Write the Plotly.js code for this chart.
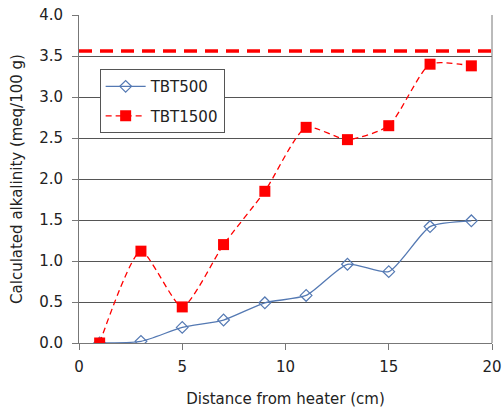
<!DOCTYPE html>
<html><head><meta charset="utf-8">
<script src="https://cdn.plot.ly/plotly-3.0.1.min.js"></script>
<style>html,body{margin:0;padding:0;background:#fff}#c{width:504px;height:408px}</style>
</head><body><div id="c"></div>
<script>
const distance = [1, 3, 5, 7, 9, 11, 13, 15, 17, 19];
const tbt500 = [0.0, 0.02, 0.19, 0.28, 0.49, 0.58, 0.96, 0.87, 1.42, 1.49];
const tbt1500 = [0.0, 1.12, 0.44, 1.20, 1.85, 2.63, 2.48, 2.65, 3.40, 3.38];
const refX = [0, 20];
const refY = [3.56, 3.56];
const xTicks = [0, 5, 10, 15, 20];
const yTicks = [0, 0.5, 1, 1.5, 2, 2.5, 3, 3.5, 4];

const traces = [
  {x: refX, y: refY, mode: 'lines', showlegend: false, hoverinfo: 'skip',
   line: {color: '#ff0000', width: 3.5, dash: '13px,8px'}},
  {x: distance, y: tbt500, name: 'TBT500', legendgroup: 'a', mode: 'lines+markers',
   line: {color: '#5479b3', width: 1.3, shape: 'spline', smoothing: 0.6},
   marker: {symbol: 'diamond-open', size: 9, color: '#5479b3', line: {width: 1.2}}},
  {x: distance, y: tbt1500, name: 'TBT1500', legendgroup: 'b', mode: 'lines+markers',
   line: {color: '#ff0000', width: 1.3, dash: '6px,4px', shape: 'spline', smoothing: 0.6},
   marker: {symbol: 'square', size: 11, color: '#ff0000'}}
];

const layout = {
  width: 504, height: 408,
  margin: {l: 79, r: 12, t: 15, b: 65},
  paper_bgcolor: '#fff', plot_bgcolor: '#fff',
  font: {family: 'DejaVu Sans, Verdana, sans-serif', size: 15, color: '#222'},
  showlegend: true,
  legend: {x: 0.05, y: 0.835, xanchor: 'left', yanchor: 'top', bgcolor: '#fff',
    bordercolor: '#555', borderwidth: 1, font: {size: 15, color: '#222'},
    itemwidth: 40, tracegroupgap: 7},
  xaxis: {range: [0, 20], tickvals: xTicks, ticktext: xTicks.map(String),
    showgrid: false, zeroline: false, showline: true, linecolor: '#777', linewidth: 1,
    mirror: false, ticks: 'outside', ticklen: 6, tickcolor: '#777',
    ticklabelstandoff: 4, tickfont: {size: 15},
    title: {text: 'Distance from heater (cm)', font: {size: 15}, standoff: 20}},
  yaxis: {range: [0, 4], tickvals: yTicks, ticktext: yTicks.map(v => v.toFixed(1)),
    showgrid: true, gridcolor: '#555', gridwidth: 1, zeroline: false,
    showline: true, linecolor: '#777', linewidth: 1, ticks: 'outside', ticklen: 6,
    tickcolor: '#777', ticklabelstandoff: 6, tickfont: {size: 15},
    title: {text: 'Calculated alkalinity (meq/100 g)', font: {size: 15}, standoff: 12}},
  shapes: [{type: 'line', xref: 'paper', yref: 'paper', x0: 1, x1: 1, y0: 0, y1: 1,
    line: {color: '#777', width: 1}}]
};
Plotly.newPlot('c', traces, layout, {displayModeBar: false, staticPlot: true});
</script></body></html>
